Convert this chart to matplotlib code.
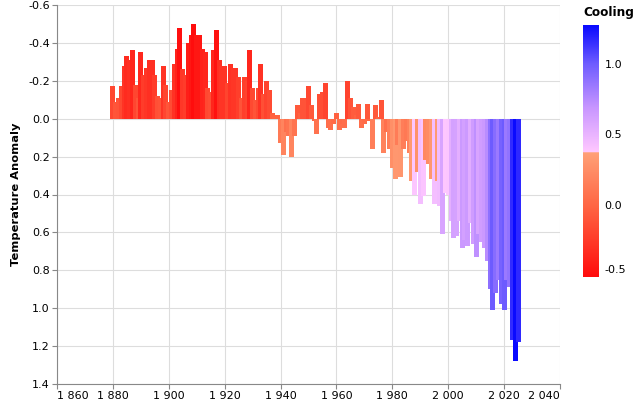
import numpy as np
import matplotlib
matplotlib.use("Agg")
import matplotlib.pyplot as plt
from matplotlib.colors import LinearSegmentedColormap, Normalize
from matplotlib.ticker import FuncFormatter

# ---------------- data ----------------
years = list(range(1880, 2026))
anomaly = [
    -0.17, -0.09, -0.11, -0.17, -0.28, -0.33, -0.31, -0.36, -0.18, -0.11,   # 1880s
    -0.35, -0.23, -0.27, -0.31, -0.31, -0.23, -0.12, -0.11, -0.28, -0.18,   # 1890s
    -0.09, -0.15, -0.29, -0.37, -0.48, -0.26, -0.23, -0.40, -0.44, -0.50,   # 1900s
    -0.44, -0.44, -0.37, -0.35, -0.16, -0.14, -0.36, -0.47, -0.31, -0.28,   # 1910s
    -0.28, -0.19, -0.29, -0.27, -0.27, -0.22, -0.11, -0.22, -0.20, -0.36,   # 1920s
    -0.16, -0.10, -0.16, -0.29, -0.13, -0.20, -0.15, -0.03, -0.01, -0.02,   # 1930s
    0.13, 0.19, 0.07, 0.09, 0.20, 0.09, -0.07, -0.03, -0.11, -0.11,         # 1940s
    -0.17, -0.07, 0.01, 0.08, -0.13, -0.14, -0.19, 0.05, 0.06, 0.03,        # 1950s
    -0.03, 0.06, 0.03, 0.05, -0.20, -0.11, -0.06, -0.02, -0.08, 0.05,       # 1960s
    0.03, -0.08, 0.01, 0.16, -0.07, -0.01, -0.10, 0.18, 0.07, 0.16,         # 1970s
    0.26, 0.32, 0.14, 0.31, 0.16, 0.12, 0.18, 0.33, 0.40, 0.28,             # 1980s
    0.45, 0.41, 0.22, 0.24, 0.32, 0.45, 0.33, 0.46, 0.61, 0.39,             # 1990s
    0.40, 0.54, 0.63, 0.62, 0.54, 0.68, 0.64, 0.67, 0.55, 0.66,             # 2000s
    0.73, 0.61, 0.65, 0.68, 0.75, 0.90, 1.01, 0.92, 0.85, 0.98,             # 2010s
    1.01, 0.85, 0.89, 1.17, 1.28, 1.18,                                     # 2020s
]

x_ticks = list(range(1860, 2041, 20))
y_ticks = [-0.6, -0.4, -0.2, 0.0, 0.2, 0.4, 0.6, 0.8, 1.0, 1.2, 1.4]
legend_ticks = [-0.5, 0.0, 0.5, 1.0]

# ---------------- style ----------------
W, H = 640, 400
AX_L, AX_R, AX_T, AX_B = 57, 560, 5, 384
BAR_PX = 5
GRID = "#dddddd"
AXC = "#888888"
FONT = "DejaVu Sans"
LABEL_PT = 8.0
TITLE_PT = 8.25

plt.rcParams["font.family"] = FONT
plt.rcParams["axes.unicode_minus"] = False

vmin, vmax = -0.5, 1.28
brk = 0.385
fb = (brk - vmin) / (vmax - vmin)
cmap = LinearSegmentedColormap.from_list(
    "cooling",
    [
        (0.0, "#ff0d0d"),
        (fb * 0.55, "#ff6442"),
        (fb, "#ffa278"),
        (fb + 1e-4, "#ffc8ff"),
        (fb + (1 - fb) * 0.35, "#c896ff"),
        (fb + (1 - fb) * 0.7, "#6e5cff"),
        (1.0, "#0a0aff"),
    ],
)
norm = Normalize(vmin=vmin, vmax=vmax)

fig = plt.figure(figsize=(W / 100, H / 100), dpi=100)
ax = fig.add_axes([AX_L / W, 1 - AX_B / H, (AX_R - AX_L) / W, (AX_B - AX_T) / H])

xmin, xmax = x_ticks[0], x_ticks[-1]
bar_w = BAR_PX * (xmax - xmin) / (AX_R - AX_L)
vals = np.array(anomaly)
ax.bar(years, vals, width=bar_w, color=cmap(norm(vals)), linewidth=0, zorder=2)

ax.set_xlim(xmin, xmax)
ax.set_ylim(y_ticks[-1], y_ticks[0])
ax.set_xticks(x_ticks)
ax.set_yticks(y_ticks)
ax.xaxis.set_major_formatter(FuncFormatter(lambda v, p: f"{int(v):,}".replace(",", " ")))
ax.yaxis.set_major_formatter(FuncFormatter(lambda v, p: f"{v:.1f}"))

ax.set_axisbelow(True)
ax.grid(True, color=GRID, linewidth=0.8)
for s in ["top", "right"]:
    ax.spines[s].set_visible(False)
for s in ["left", "bottom"]:
    ax.spines[s].set_color(AXC)
    ax.spines[s].set_linewidth(0.8)
ax.tick_params(axis="both", colors=AXC, length=3.75, width=0.8, labelcolor="#000000",
               labelsize=LABEL_PT, pad=1.5)

# flush first / last x labels to the axis ends (as the reference does)
xlabels = ax.get_xticklabels()
xlabels[0].set_horizontalalignment("left")
xlabels[-1].set_horizontalalignment("right")

ax.set_ylabel("Temperature Anomaly", fontsize=TITLE_PT, fontweight="bold", labelpad=5)

# legend (gradient)
LG_L, LG_R, LG_T, LG_B = 583, 599, 25, 277
cax = fig.add_axes([LG_L / W, 1 - LG_B / H, (LG_R - LG_L) / W, (LG_B - LG_T) / H])
grad = np.linspace(vmin, vmax, 400).reshape(-1, 1)
cax.imshow(grad, aspect="auto", cmap=cmap, norm=norm, origin="lower",
           extent=[0, 1, vmin, vmax])
cax.set_xticks([])
cax.set_yticks([])
for s in cax.spines.values():
    s.set_visible(False)
for t in legend_ticks:
    yy = min(max(t, vmin + 0.05), vmax)
    cax.text(1.35, yy, f"{t:.1f}", transform=cax.get_yaxis_transform(),
             fontsize=LABEL_PT, va="center", ha="left")
fig.text(LG_L / W, 1 - 12.5 / H, "Cooling", fontsize=TITLE_PT + 0.5, fontweight="bold",
         va="center", ha="left")

fig.savefig("out.png", dpi=100)
